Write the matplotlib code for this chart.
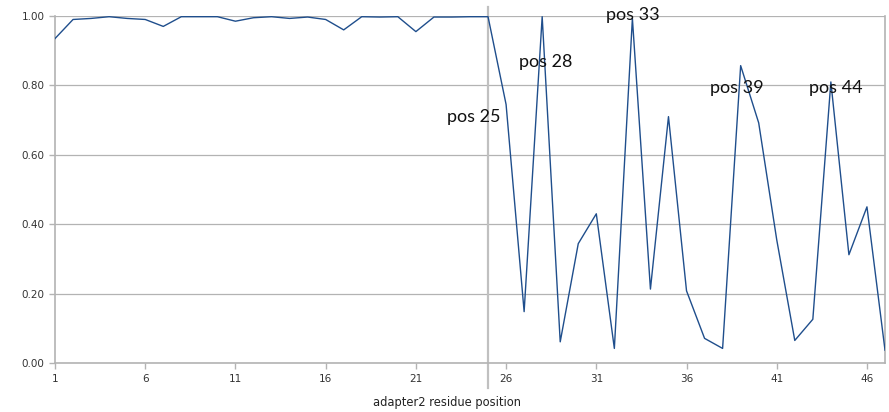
import numpy as np
import matplotlib.pyplot as plt

# residue positions and fraction values
positions = np.arange(1, 48)
values = [0.935, 0.990, 0.993, 0.998, 0.993, 0.990, 0.970, 0.998, 0.998, 0.998,
          0.985, 0.995, 0.998, 0.993, 0.997, 0.990, 0.960, 0.998, 0.997, 0.998,
          0.955, 0.997, 0.997, 0.998, 0.998, 0.745, 0.148, 0.998, 0.061, 0.344,
          0.430, 0.042, 0.993, 0.213, 0.710, 0.208, 0.071, 0.042, 0.857, 0.692,
          0.355, 0.065, 0.126, 0.810, 0.312, 0.450, 0.037]
xticks = [1, 6, 11, 16, 21, 26, 31, 36, 41, 46]
yticks = [0.0, 0.2, 0.4, 0.6, 0.8, 1.0]
marker_pos = 25
labels = ["pos 25", "pos 28", "pos 33", "pos 39", "pos 44"]
label_xy = [(24.2, 0.709), (28.2, 0.867), (33.0, 1.003), (38.8, 0.793), (44.3, 0.793)]

grey = "#b3b3b3"
fig = plt.figure(figsize=(8.89, 4.12), dpi=100)
ax = fig.add_axes([55 / 889, 49 / 412, 830 / 889, 347 / 412])

ax.plot(positions, values, color="#1f4e8c", lw=1.0, zorder=3)
ax.axvline(marker_pos, ymin=-0.072, ymax=1.026, color="#c0c0c0", lw=1.6,
           clip_on=False, zorder=2)

for txt, (x, y) in zip(labels, label_xy):
    ax.text(x, y, txt, ha="center", va="center", fontsize=13,
            family=["Lato", "DejaVu Sans"], color="#111111", zorder=4)

ax.set_xlim(1, 47)
ax.set_ylim(0, 1)
ax.set_xticks(xticks)
ax.set_yticks(yticks)
ax.set_yticklabels(["{:.2f}".format(v) for v in yticks])
ax.yaxis.grid(True, color=grey, lw=0.9)
ax.set_axisbelow(True)
for s in ["left", "bottom", "right"]:
    ax.spines[s].set_color(grey)
    ax.spines[s].set_linewidth(1.2)
ax.spines["top"].set_visible(False)
ax.tick_params(axis="both", colors=grey, labelcolor="#333333", labelsize=7.5,
               length=4, width=1.0)
ax.tick_params(axis="x", pad=4)

ax.set_xlabel("adapter2 residue position", fontsize=8.3, color="#222222")
ax.xaxis.set_label_coords(0.472, -0.095)

fig.savefig("out.png", dpi=100)
